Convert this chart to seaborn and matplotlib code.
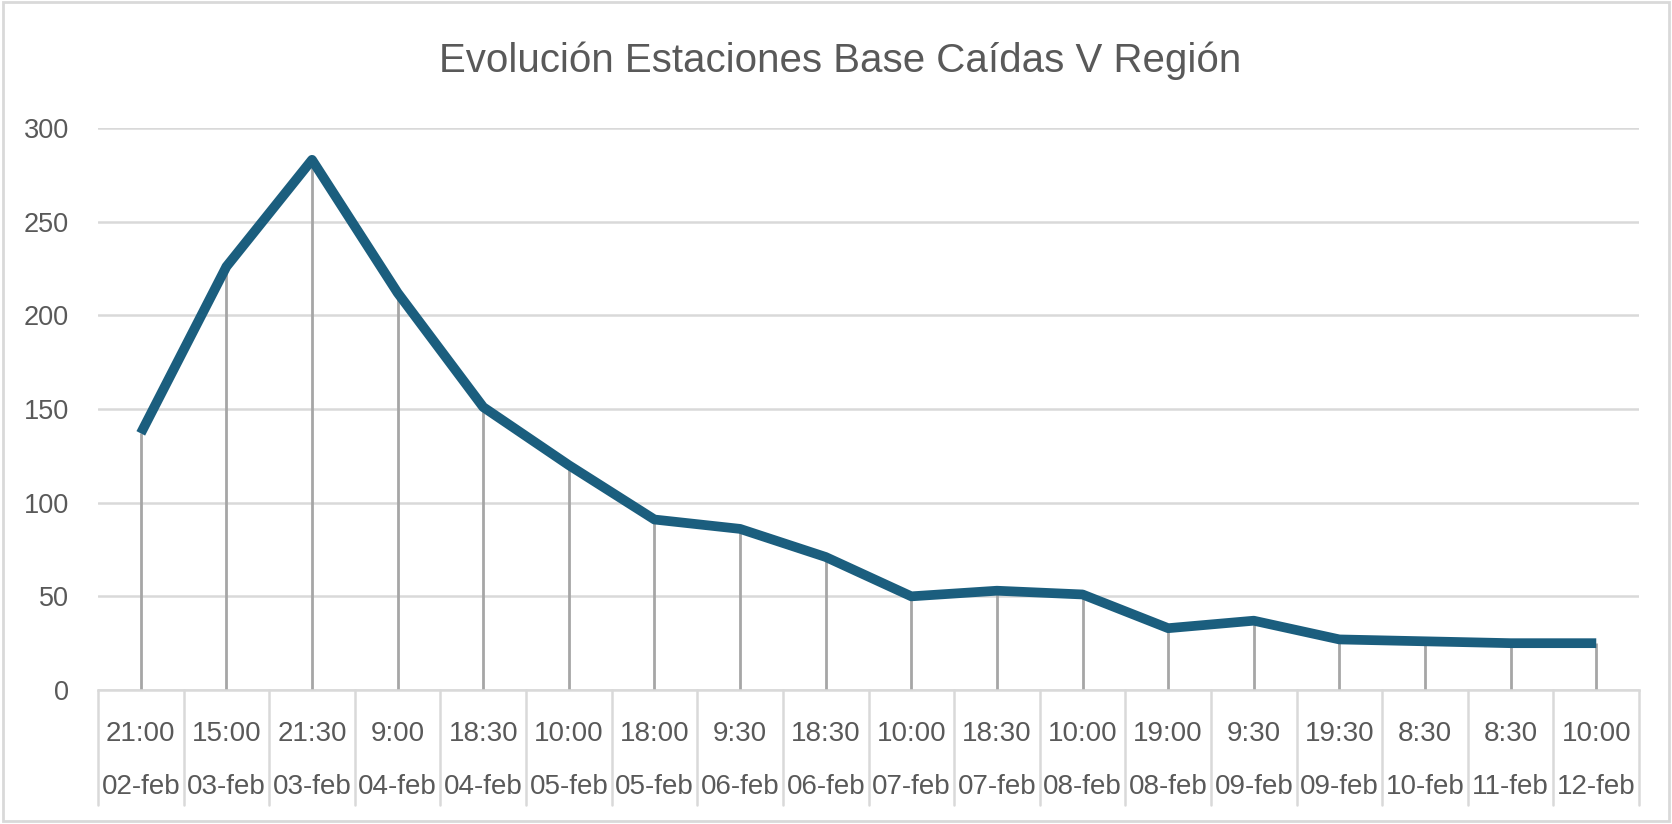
import numpy as np
import pandas as pd
import matplotlib
matplotlib.use("Agg")
import matplotlib.pyplot as plt
import matplotlib.transforms as mtransforms
from matplotlib.patches import Rectangle
import seaborn as sns

# data
horas = ["21:00", "15:00", "21:30", "9:00", "18:30", "10:00", "18:00", "9:30", "18:30",
         "10:00", "18:30", "10:00", "19:00", "9:30", "19:30", "8:30", "8:30", "10:00"]
fechas = ["02-feb", "03-feb", "03-feb", "04-feb", "04-feb", "05-feb", "05-feb", "06-feb", "06-feb",
          "07-feb", "07-feb", "08-feb", "08-feb", "09-feb", "09-feb", "10-feb", "11-feb", "12-feb"]
caidas = [137, 226, 283, 212, 151, 120, 91, 86, 71, 50, 53, 51, 33, 37, 27, 26, 25, 25]

TITLE = "Evolución Estaciones Base Caídas V Región"

LINE_COLOR = "#1b5e7e"
GRID_COLOR = "#d9d9d9"
DROP_COLOR = "#a6a6a6"
TEXT_COLOR = "#595959"

df = pd.DataFrame({"hora": horas, "fecha": fechas, "caidas": caidas})
df["pos"] = np.arange(len(df))

sns.set_theme(style="white")
plt.rcParams["font.family"] = ["Liberation Sans Narrow", "Liberation Sans", "DejaVu Sans"]

fig = plt.figure(figsize=(16.72, 8.24), dpi=100)
ax = fig.add_axes([0.0586, 0.1626, 0.9217, 0.6821])

# drop lines from each point down to the axis
ax.vlines(df["pos"], 0, df["caidas"], color=DROP_COLOR, linewidth=2.0, zorder=2)

sns.lineplot(data=df, x="pos", y="caidas", ax=ax, color=LINE_COLOR, linewidth=7.0,
             solid_joinstyle="round", solid_capstyle="butt", zorder=3)

ax.set_xlim(-0.5, len(df) - 0.5)
ax.set_ylim(0, 300)
ax.set_yticks(np.arange(0, 301, 50))
ax.yaxis.grid(True, color=GRID_COLOR, linewidth=1.8)
ax.set_axisbelow(True)
for s in ["top", "right", "left"]:
    ax.spines[s].set_visible(False)
ax.spines["bottom"].set_color(GRID_COLOR)
ax.spines["bottom"].set_linewidth(1.8)
ax.tick_params(axis="y", length=0, pad=21, labelsize=19.5, labelcolor=TEXT_COLOR)

# two-level category axis: time row and date row
ax.set_xticks(df["pos"])
ax.set_xticklabels(df["hora"])
ax.tick_params(axis="x", length=0, pad=22, labelsize=20, labelcolor=TEXT_COLOR)
ax.set_xlabel("")
ax.set_ylabel("")

trans = mtransforms.blended_transform_factory(ax.transData, ax.transAxes)
for p, f in zip(df["pos"], df["fecha"]):
    ax.text(p, -0.172, f, transform=trans, ha="center", va="center",
            fontsize=20, color=TEXT_COLOR)

# separators between categories
for b in np.arange(-0.5, len(df), 1.0):
    ax.plot([b, b], [0, -0.205], transform=trans, color=GRID_COLOR,
            linewidth=1.8, clip_on=False)

fig.text(0.5025, 0.926, TITLE, ha="center", va="center", fontsize=29,
         color=TEXT_COLOR, family=["Liberation Sans", "DejaVu Sans"])

# chart area border
fig.patches.append(Rectangle((0.0015, 0.004), 0.997, 0.994, transform=fig.transFigure,
                             fill=False, edgecolor=GRID_COLOR, linewidth=2.0))

fig.savefig("out.png", dpi=100)
